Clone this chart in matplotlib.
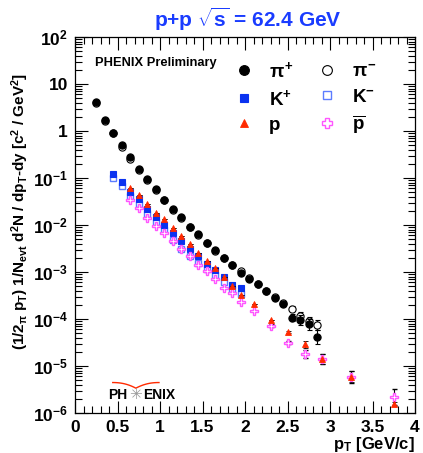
import numpy as np
import matplotlib
matplotlib.use("Agg")
import matplotlib.pyplot as plt
from matplotlib.ticker import FixedLocator, FuncFormatter, MultipleLocator
from matplotlib.lines import Line2D

plt.rcParams['font.family'] = ['Liberation Sans', 'DejaVu Sans']
plt.rcParams['font.weight'] = 'bold'
plt.rcParams['mathtext.fontset'] = 'custom'
plt.rcParams['mathtext.rm'] = 'Liberation Sans:bold'
plt.rcParams['mathtext.it'] = 'Liberation Sans:bold'
plt.rcParams['mathtext.bf'] = 'Liberation Sans:bold'
plt.rcParams['mathtext.sf'] = 'Liberation Sans:bold'

# ---------------- data (log10 of invariant yield) ----------------
pt_pi = [0.25, 0.35, 0.45, 0.55, 0.65, 0.75, 0.85, 0.95, 1.05, 1.15, 1.25, 1.35, 1.45, 1.55,
         1.65, 1.75, 1.85, 1.95, 2.05, 2.15, 2.25, 2.35, 2.45, 2.55, 2.65, 2.75, 2.85]
log_pip = [0.61, 0.24, -0.036, -0.30, -0.56, -0.81, -1.03, -1.24, -1.46, -1.67, -1.84, -2.04, -2.20, -2.38,
           -2.54, -2.70, -2.85, -3.03, -3.15, -3.26, -3.41, -3.55, -3.68, -3.97, -4.02, -4.11, -4.38]
log_pim = [0.60, 0.22, -0.05, -0.33, -0.59, -0.84, -1.05, -1.26, -1.47, -1.68, -1.86, -2.05, -2.21, -2.39,
           -2.55, -2.70, -2.86, -2.97, -3.13, -3.26, -3.40, -3.53, -3.66, -3.78, -3.93, -4.04, -4.13]
err_pip = [0, 0, 0, 0, 0, 0, 0, 0, 0, 0, 0, 0, 0, 0, 0, 0, 0, 0, 0, 0, 0, 0, 0.03, 0.08, 0.10, 0.12, 0.15]
err_pim = [0, 0, 0, 0, 0, 0, 0, 0, 0, 0, 0, 0, 0, 0, 0, 0, 0, 0, 0, 0, 0, 0, 0.03, 0.05, 0.07, 0.08, 0.10]

pt_k = [0.45, 0.55, 0.65, 0.75, 0.85, 0.95, 1.05, 1.15, 1.25, 1.35, 1.45, 1.55, 1.65, 1.75, 1.85, 1.95]
log_kp = [-0.92, -1.08, -1.29, -1.45, -1.67, -1.84, -1.99, -2.16, -2.34, -2.52, -2.66, -2.82, -2.96, -3.11, -3.28, -3.35]
log_km = [-0.99, -1.17, -1.38, -1.56, -1.77, -1.94, -2.11, -2.31, -2.50, -2.66, -2.80, -2.93, -3.07, -3.21, -3.37, -3.47]

pt_p = [0.65, 0.75, 0.85, 0.95, 1.05, 1.15, 1.25, 1.35, 1.45, 1.55, 1.65, 1.75, 1.85, 1.95,
        2.1, 2.3, 2.5, 2.7, 2.9, 3.25, 3.75]
log_p = [-1.21, -1.36, -1.55, -1.74, -1.88, -2.07, -2.23, -2.40, -2.59, -2.77, -2.92, -3.11, -3.30, -3.49,
         -3.68, -4.02, -4.27, -4.54, -4.85, -5.23, -5.81]
log_pbar = [-1.47, -1.64, -1.86, -2.03, -2.16, -2.35, -2.51, -2.67, -2.85, -2.98, -3.14, -3.33, -3.45, -3.63,
            -3.84, -4.14, -4.50, -4.74, -4.85, -5.23, -5.65]
err_p = [0, 0, 0, 0, 0, 0, 0, 0, 0, 0, 0, 0, 0, 0, 0, 0, 0.02, 0.07, 0.10, 0.12, 0.05]
err_pbar = [0, 0, 0, 0, 0, 0, 0, 0, 0, 0, 0, 0, 0, 0, 0, 0.03, 0.04, 0.08, 0.10, 0.13, 0.17]

x_ticks = [0, 0.5, 1, 1.5, 2, 2.5, 3, 3.5, 4]
x_labels = ['0', '0.5', '1', '1.5', '2', '2.5', '3', '3.5', '4']


def lin(logv, err):
    v = 10.0 ** np.asarray(logv)
    e = np.asarray(err)
    return v, np.vstack([v * (1 - 10.0 ** (-e)), v * (10.0 ** e - 1)])


fig = plt.figure(figsize=(4.23, 4.53), dpi=100)
ax = fig.add_axes([75 / 423, 1 - 413 / 453, 340 / 423, 376 / 453])

col_kp = '#0a32f0'
col_km = '#5c7cff'
col_p = '#ff2a00'
col_pb = '#ff55ff'

st_pip = dict(marker='o', ms=5.2, mfc='black', mec='black', mew=0.8)
st_pim = dict(marker='o', ms=5.2, mfc='white', mec='black', mew=0.8)
st_kp = dict(marker='s', ms=4.6, mfc=col_kp, mec=col_kp, mew=0.8)
st_km = dict(marker='s', ms=4.6, mfc='white', mec=col_km, mew=1.0)
st_p = dict(marker='^', ms=4.6, mfc=col_p, mec=col_p, mew=0.6)
st_pb = dict(marker='P', ms=5.8, mfc='white', mec=col_pb, mew=1.0)
eb = dict(ls='none', ecolor='black', elinewidth=0.8, capsize=1.8, capthick=0.8)

v, e = lin(log_km, [0] * len(log_km))
ax.plot(pt_k, v, ls='none', zorder=3, **st_km)
v, e = lin(log_kp, [0] * len(log_kp))
ax.plot(pt_k, v, ls='none', zorder=3, **st_kp)

v, e = lin(log_pbar, err_pbar)
ax.errorbar(pt_p, v, yerr=e, zorder=4, **eb, **st_pb)
v, e = lin(log_p, err_p)
ax.errorbar(pt_p, v, yerr=e, zorder=4, **eb, **st_p)

v, e = lin(log_pim, err_pim)
ax.errorbar(pt_pi, v, yerr=e, zorder=5, **eb, **st_pim)
v, e = lin(log_pip, err_pip)
ax.errorbar(pt_pi, v, yerr=e, zorder=6, **eb, **st_pip)

ax.set_yscale('log')
ax.set_xlim(0, 4)
ax.set_ylim(1e-6, 1e2)


def yfmt(val, pos):
    n = int(round(np.log10(val)))
    if n == 0:
        return '1'
    if n == 1:
        return '10'
    return r'$\mathbf{10^{%d}}$' % n


ax.yaxis.set_major_formatter(FuncFormatter(yfmt))
ax.xaxis.set_major_locator(FixedLocator(x_ticks))
ax.set_xticklabels(x_labels)
ax.xaxis.set_minor_locator(MultipleLocator(0.1))
ax.tick_params(which='both', direction='in', top=True, right=True, width=0.8, colors='black')
ax.tick_params(which='major', length=9, labelsize=12.5)
ax.tick_params(axis='x', which='major', pad=5)
ax.tick_params(axis='y', which='major', pad=5)
ax.tick_params(which='minor', length=5)
for s in ax.spines.values():
    s.set_linewidth(0.9)
for lab in ax.get_xticklabels() + ax.get_yticklabels():
    lab.set_fontweight('bold')

ax.set_xlabel(r'p$_\mathbf{T}$ [GeV/c]', fontsize=12, fontweight='bold', ha='right', va='center')
ax.xaxis.set_label_coords(1.0, -0.083)
ax.set_ylabel(r'(1/2$_{\pi}$ p$_{T}$) 1/N$_{evt}$ d$^{2}$N / dp$_{T}$-dy [c$^{2}$ / GeV$^{2}$]',
              fontsize=11, fontweight='bold', va='center')
ax.yaxis.set_label_coords(-0.16, 0.535)
fig.text(0.585, 0.958, r'p+p $\sqrt{\mathrm{s}}$ = 62.4 GeV', color='#1a3cff', fontsize=15,
         fontweight='bold', ha='center', va='center')
ax.text(0.06, 0.93, 'PHENIX Preliminary', transform=ax.transAxes, fontsize=9.3, fontweight='bold', va='center')

# legend in two columns (column-major order)
handles = [Line2D([], [], ls='none', **st_pip), Line2D([], [], ls='none', **st_kp),
           Line2D([], [], ls='none', **st_p), Line2D([], [], ls='none', **st_pim),
           Line2D([], [], ls='none', **st_km), Line2D([], [], ls='none', **st_pb)]
labels = [r'$\pi^{\mathbf{+}}$', r'K$^{\mathbf{+}}$', 'p',
          r'$\pi^{\mathbf{-}}$', r'K$^{\mathbf{-}}$', r'$\overline{\mathrm{p}}$']
leg = ax.legend(handles, labels, ncol=2, frameon=False, loc='upper left',
                bbox_to_anchor=(0.47, 0.937), fontsize=13.5, handlelength=1.0, markerscale=1.35,
                handletextpad=0.83, columnspacing=1.3, labelspacing=0.42, borderaxespad=0, borderpad=0)
for t in leg.get_texts():
    t.set_fontweight('bold')

# PHENIX logo
ax.text(0.097, 0.048, 'PH', transform=ax.transAxes, fontsize=10, fontweight='bold', va='center')
ax.text(0.2, 0.048, 'ENIX', transform=ax.transAxes, fontsize=10, fontweight='bold', va='center')
ax.text(0.179, 0.048, '\u2733', transform=ax.transAxes, fontsize=11, color='#999999', ha='center',
        va='center', family='DejaVu Sans')
tt = np.linspace(-1, 1, 61)
ax.plot(0.179 + 0.068 * tt, 0.081 - 0.015 * (1 - np.abs(tt)) ** 2.2, transform=ax.transAxes,
        color='#ff2a00', lw=1, clip_on=False)

fig.savefig('out.png', dpi=100)
